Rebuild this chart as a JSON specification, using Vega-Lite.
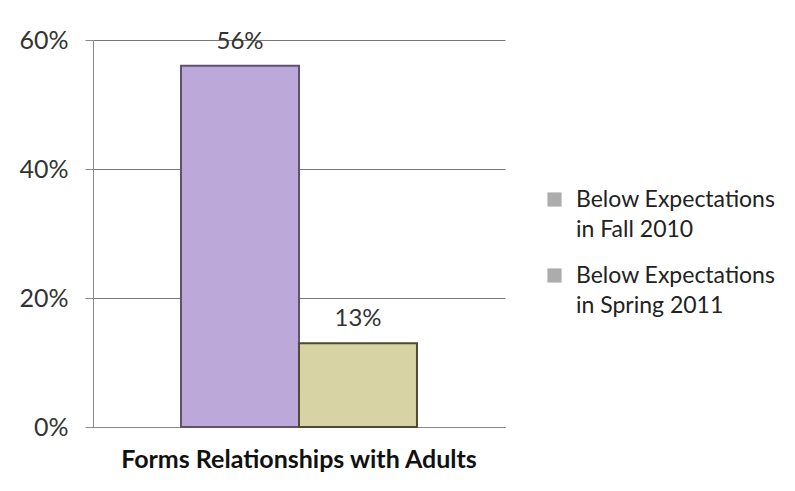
{
  "$schema": "https://vega.github.io/schema/vega-lite/v6.json",
  "width": 412,
  "height": 387,
  "autosize": {"type": "none"},
  "padding": {"left": 93, "top": 40, "right": 290, "bottom": 64},
  "background": "white",
  "data": {
    "values": [
      {"category": "Forms Relationships with Adults", "series": "Below Expectations\nin Fall 2010", "value": 0.56},
      {"category": "Forms Relationships with Adults", "series": "Below Expectations\nin Spring 2011", "value": 0.13}
    ]
  },
  "config": {
    "font": "Lato",
    "view": {"stroke": null},
    "axis": {"labelFont": "Lato", "titleFont": "Lato"},
    "style": {"guide-label": {"lineHeight": 30}}
  },
  "encoding": {
    "x": {
      "field": "category",
      "type": "nominal",
      "title": null,
      "scale": {"paddingInner": 0, "paddingOuter": 0.373},
      "axis": {
        "labelAngle": 0,
        "labelFontSize": 25,
        "labelFontWeight": "bold",
        "labelColor": "#111",
        "labelPadding": 20,
        "labelLimit": 600,
        "ticks": false,
        "domainColor": "#888",
        "domainWidth": 1
      }
    },
    "xOffset": {"field": "series", "type": "nominal", "scale": {"paddingInner": 0, "paddingOuter": 0}},
    "y": {
      "field": "value",
      "type": "quantitative",
      "title": null,
      "scale": {"domain": [0, 0.6], "nice": false},
      "axis": {
        "values": [0, 0.2, 0.4, 0.6],
        "format": ".0%",
        "labelFontSize": 25,
        "labelColor": "#333",
        "labelPadding": 17,
        "tickSize": 8,
        "tickColor": "#888",
        "domainColor": "#888",
        "gridColor": "#777",
        "gridWidth": 1,
        "grid": true
      }
    }
  },
  "layer": [
    {
      "mark": {"type": "bar", "strokeWidth": 2},
      "encoding": {
        "color": {
          "field": "series",
          "type": "nominal",
          "scale": {"range": ["#BCA9D9", "#D8D3A4"]},
          "legend": null
        },
        "stroke": {
          "field": "series",
          "type": "nominal",
          "scale": {"range": ["#5e526e", "#4e4b30"]},
          "legend": null
        }
      }
    },
    {
      "mark": {"type": "point", "filled": true, "color": "#8a8a8a", "size": 0},
      "encoding": {
        "shape": {
          "field": "series",
          "type": "nominal",
          "scale": {"range": ["square", "square"]},
          "legend": {
            "title": null,
            "orient": "none",
            "legendX": 450,
            "legendY": 148,
            "labelFontSize": 23,
            "labelColor": "#222",
            "labelLimit": 400,
            "labelExpr": "split(datum.label, '\\n')",
            "symbolSize": 200,
            "symbolFillColor": "#8a8a8a",
            "symbolStrokeColor": "#666",
            "symbolStrokeWidth": 1,
            "rowPadding": 22,
            "labelOffset": 10
          }
        }
      }
    },
    {
      "mark": {"type": "text", "baseline": "bottom", "dy": -12, "fontSize": 24, "color": "#333"},
      "encoding": {
        "text": {"field": "value", "type": "quantitative", "format": ".0%"}
      }
    }
  ]
}
